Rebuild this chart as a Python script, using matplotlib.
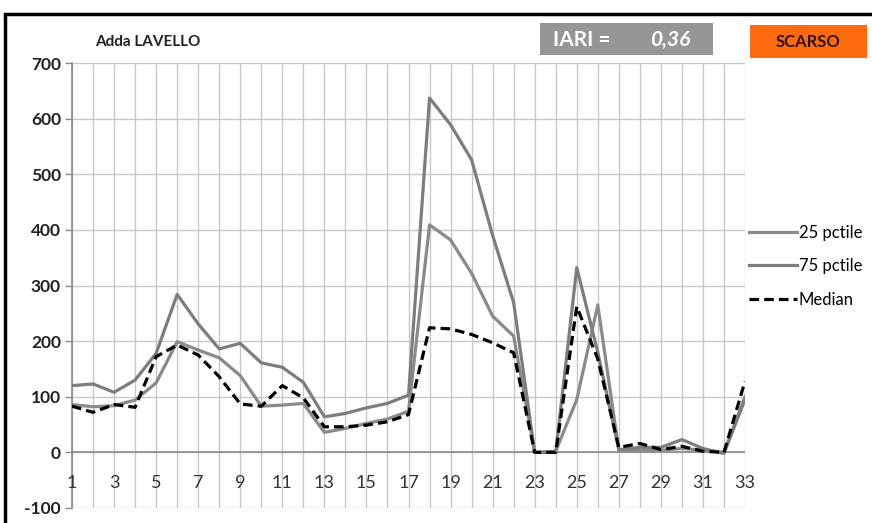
import matplotlib
matplotlib.use("Agg")
import matplotlib.pyplot as plt
from matplotlib.patches import Rectangle

W, H = 872, 523

days = list(range(1, 34))
pctile_75 = [120, 123, 108, 130, 178, 284, 231, 186, 196, 161, 153, 126, 64, 70, 80, 88, 103,
             637, 589, 526, 390, 269, 0, 0, 332, 180, 5, 9, 9, 23, 7, -2, 95]
pctile_25 = [86, 82, 84, 94, 125, 199, 184, 170, 138, 83, 85, 88, 36, 43, 52, 60, 74,
             409, 382, 322, 245, 209, 0, 2, 95, 265, 4, 3, 4, 7, 4, 0, 100]
median = [83, 72, 86, 81, 172, 193, 175, 136, 87, 83, 120, 98, 46, 46, 49, 55, 68,
          224, 222, 212, 197, 179, 0, 0, 262, 168, 9, 16, 5, 11, 2, 0, 128]
xtick_labels = [str(d) for d in range(1, 34, 2)]
yticks = list(range(-100, 701, 100))

station = "Adda LAVELLO"
iari_label = "IARI ="
iari_value = "0,36"
rating = "SCARSO"

FONT = "Lato"
plt.rcParams["axes.unicode_minus"] = False


def px(x, y):
    # pixel coords (top-left origin) -> figure fraction
    return x / W, 1 - y / H


fig = plt.figure(figsize=(W / 100, H / 100), dpi=100)
fig.patch.set_facecolor("white")

# plot area: x=1 at px 72, x=33 at px 745, 700 at py 63, -100 at py 508
left, top = px(72, 63)
right, bottom = px(745, 508)
ax = fig.add_axes([left, bottom, right - left, top - bottom])

ax.set_xlim(1, 33)
ax.set_ylim(-100, 700)

ax.plot(days, pctile_25, color="#8a8a8a", lw=2.3, label="25 pctile", zorder=3)
ax.plot(days, pctile_75, color="#7d7d7d", lw=2.3, label="75 pctile", zorder=3)
ax.plot(days, median, color="black", lw=2.3, ls=(0, (3, 1.6)), label="Median", zorder=4)

# grid
ax.set_xticks(days, minor=True)
ax.set_xticks(range(1, 34, 2))
ax.set_xticklabels([])
ax.set_yticks(yticks)
ax.grid(True, which="both", axis="x", color="#c8c8c8", lw=1)
ax.grid(True, which="major", axis="y", color="#c8c8c8", lw=1)
ax.axhline(0, color="#8a8a8a", lw=1.2, zorder=2)

for s in ["top", "right", "bottom"]:
    ax.spines[s].set_visible(False)
ax.spines["left"].set_color("#8a8a8a")
ax.spines["left"].set_linewidth(1.2)

ax.tick_params(axis="x", which="both", length=0)
ax.tick_params(axis="y", length=5, color="#8a8a8a", width=1, pad=3,
               labelsize=12.5, labelcolor="#222222")
for lab in ax.get_yticklabels():
    lab.set_fontfamily(FONT)
    lab.set_fontweight("bold")

# x labels sit just under the zero line
for lab in xtick_labels:
    ax.text(int(lab), -55, lab, ha="center", va="center", fontsize=13,
            family=FONT, color="#333333")

leg = fig.legend(loc="upper left", bbox_to_anchor=px(742, 218), frameon=False,
                 prop={"family": FONT, "size": 12}, handlelength=2.9,
                 handletextpad=0.1, labelspacing=1.05, borderaxespad=0)

# header
fig.text(*px(95, 42), station, ha="left", va="center", fontsize=11,
         fontweight="bold", family=FONT, color="#222222")

x0, y0 = px(540, 55)
x1, y1 = px(713, 23)
fig.patches.append(Rectangle((x0, y0), x1 - x0, y1 - y0, transform=fig.transFigure,
                             facecolor="#969696", edgecolor="none"))
fig.text(*px(582, 40), iari_label, ha="center", va="center", fontsize=15,
         fontweight="bold", family=FONT, color="white")
fig.text(*px(670, 40), iari_value, ha="center", va="center", fontsize=15,
         fontweight="bold", style="italic", family=FONT, color="white")

x0, y0 = px(750, 58)
x1, y1 = px(867, 25)
fig.patches.append(Rectangle((x0, y0), x1 - x0, y1 - y0, transform=fig.transFigure,
                             facecolor="#ff6a0e", edgecolor="none"))
fig.text(*px(808, 42), rating, ha="center", va="center", fontsize=12,
         fontweight="bold", family=FONT, color="#2a1205")

# outer chart frame (runs off the right and bottom edges)
fx, fy = px(5, 14)
fig.patches.append(Rectangle((fx, -0.1), 1.2, fy + 0.1, transform=fig.transFigure,
                             facecolor="none", edgecolor="black", lw=2.5))

fig.savefig("out.png", dpi=100)
